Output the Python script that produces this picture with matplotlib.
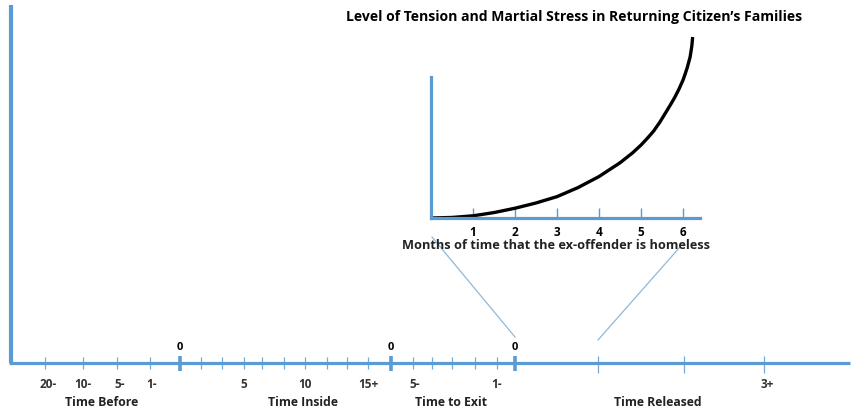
import matplotlib.pyplot as plt

plt.rcParams['font.family'] = ['Open Sans', 'DejaVu Sans']

BLUE = '#5B9BD5'

# timeline (x positions in pixels along the main axis)
minor_ticks = [45, 83, 117, 150, 201, 222, 244, 262, 284, 305, 327, 347, 368,
               413, 432, 452, 475, 497]
zero_ticks = [180, 391, 515]
released_ticks = [598, 684, 764]
tick_labels = ['20-', '10-', '5-', '1-', '5', '10', '15+', '5-', '1-', '3+']
tick_label_x = [48, 83, 120, 152, 244, 305, 368, 415, 497, 767]
groups = ['Time Before', 'Time Inside', 'Time to Exit', 'Time Released']
group_x = [102, 303, 451, 658]

# inset: stress vs months homeless
months = [0, 0.5, 1, 1.5, 2, 2.5, 3, 3.5, 4, 4.5, 4.8, 5, 5.15, 5.3, 5.45, 5.6,
          5.7, 5.8, 5.9, 6.0, 6.05, 6.1, 6.17, 6.21, 6.23]
stress = [0, 0.03, 0.12, 0.3, 0.54, 0.83, 1.18, 1.68, 2.29, 3.05, 3.6, 4.03, 4.4,
          4.8, 5.3, 5.87, 6.25, 6.65, 7.1, 7.62, 7.95, 8.3, 8.9, 9.5, 10.0]
month_ticks = [1, 2, 3, 4, 5, 6]

fig = plt.figure(figsize=(8.55, 4.17), dpi=100)

# main canvas in pixel units
ax = fig.add_axes([0, 0, 1, 1])
ax.set_xlim(0, 855)
ax.set_ylim(417, 0)
ax.axis('off')

ax.plot([11, 11], [5, 363], color=BLUE, lw=3, solid_capstyle='butt')
ax.plot([9, 850], [363, 363], color=BLUE, lw=2.3, solid_capstyle='butt')
ax.vlines(minor_ticks, 357, 369, color=BLUE, lw=0.9, alpha=0.85)
ax.vlines(zero_ticks, 356, 371, color=BLUE, lw=2.6)
ax.vlines(released_ticks, 356, 373, color=BLUE, lw=0.9, alpha=0.85)

for x in zero_ticks:
    ax.text(x, 347, '0', ha='center', va='center', fontsize=8, fontweight='bold')
for x, t in zip(tick_label_x, tick_labels):
    ax.text(x, 385, t, ha='center', va='center', fontsize=8.5, fontweight='bold',
            color='#333333')
for x, t in zip(group_x, groups):
    ax.text(x, 403, t, ha='center', va='center', fontsize=8.8, fontweight='bold',
            color='#222222')

# connectors from inset down to timeline
ax.plot([432, 515], [237, 337], color='#8FB8D8', lw=0.9)
ax.plot([680, 598], [247, 340], color='#8FB8D8', lw=0.9)

ax.text(346, 17, 'Level of Tension and Martial Stress in Returning Citizen\u2019s Families',
        ha='left', va='center', fontsize=10.1, fontweight='bold')
ax.text(556, 245, 'Months of time that the ex-offender is homeless',
        ha='center', va='center', fontsize=9.2, fontweight='bold', color='#222222')

# inset chart
ins = fig.add_axes([431 / 855, 1 - 218 / 417, 269 / 855, 181 / 417])
ins.set_xlim(0, 269 / 42)
ins.set_ylim(0, 10)
ins.patch.set_alpha(0)
for s in ['top', 'right']:
    ins.spines[s].set_visible(False)
ins.spines['left'].set_color(BLUE)
ins.spines['left'].set_linewidth(2.3)
ins.spines['left'].set_bounds(0, 141 / 18.1)
ins.spines['bottom'].set_color(BLUE)
ins.spines['bottom'].set_linewidth(2.3)
ins.plot(months, stress, color='black', lw=2.4, clip_on=False,
         solid_capstyle='butt')
ins.set_xticks(month_ticks)
ins.set_xticklabels([str(m) for m in month_ticks], fontsize=8.5, fontweight='bold')
ins.tick_params(axis='x', direction='in', length=7.5, width=1, color=BLUE, pad=6)
ins.set_yticks([])

fig.savefig('out.png', dpi=100)
